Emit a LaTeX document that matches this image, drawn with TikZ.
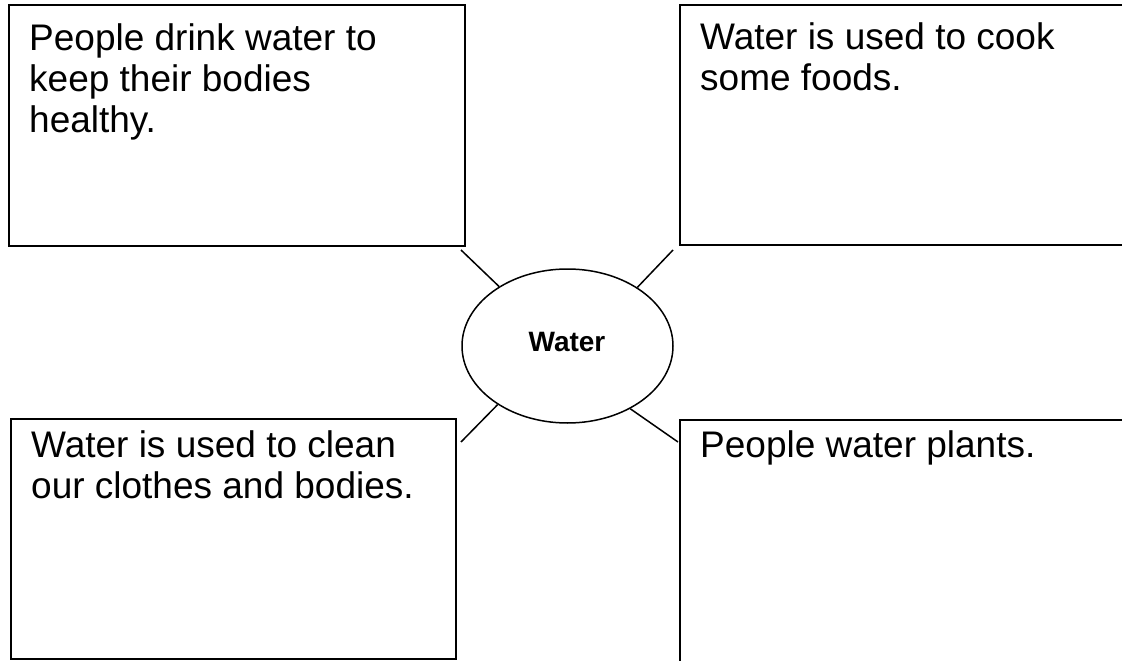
\documentclass[tikz,border=0pt]{standalone}
\usepackage{fontspec}
\setmainfont{Liberation Sans}
\usetikzlibrary{shapes.geometric}
\begin{document}
\begin{tikzpicture}[x=1pt,y=-1pt,
  box/.style={draw, line width=2pt, rectangle, inner sep=0pt, anchor=north west},
  boxtext/.style={anchor=base west, inner sep=0pt, align=left, font=\fontsize{37}{41}\selectfont},
  hub/.style={draw, line width=1.5pt, ellipse, inner sep=0pt, minimum width=211pt, minimum height=154pt},
  link/.style={line width=1.5pt}]
\clip (0,0) rectangle (1122,661);
\fill[white] (0,0) rectangle (1122,661);
% boxes
\node[box, minimum width=456pt, minimum height=241pt] (b1) at (8,4) {};
\node[box, minimum width=460pt, minimum height=240pt] (b2) at (679,4) {};
\node[box, minimum width=445pt, minimum height=240pt] (b3) at (10,418) {};
\node[box, minimum width=460pt, minimum height=260pt] (b4) at (679,419) {};
% texts (base anchor = baseline of the last line)
\node[boxtext] (t1) at (29,132) {People drink water to\\keep their bodies\\healthy.};
\node[boxtext] (t2) at (700,91) {Water is used to cook\\some foods.};
\node[boxtext] (t3) at (31,498) {Water is used to clean\\our clothes and bodies.};
\node[boxtext] (t4) at (700,457) {People water plants.};
% hub
\node[hub] (water) at (567.5,346) {};
\node[inner sep=0pt, font=\bfseries\fontsize{28}{32}\selectfont] (wlabel) at (567,342) {Water};
% free ends of connectors
\coordinate (e1) at (461,250);
\coordinate (e2) at (673,250);
\coordinate (e3) at (461,442);
\coordinate (e4) at (678,442);
\draw[link] (e1) -- (water.139.3);
\draw[link] (e2) -- (water.40.7);
\draw[link] (e3) -- (water.220.3);
\draw[link] (e4) -- (water.315.2);
\end{tikzpicture}
\end{document}
